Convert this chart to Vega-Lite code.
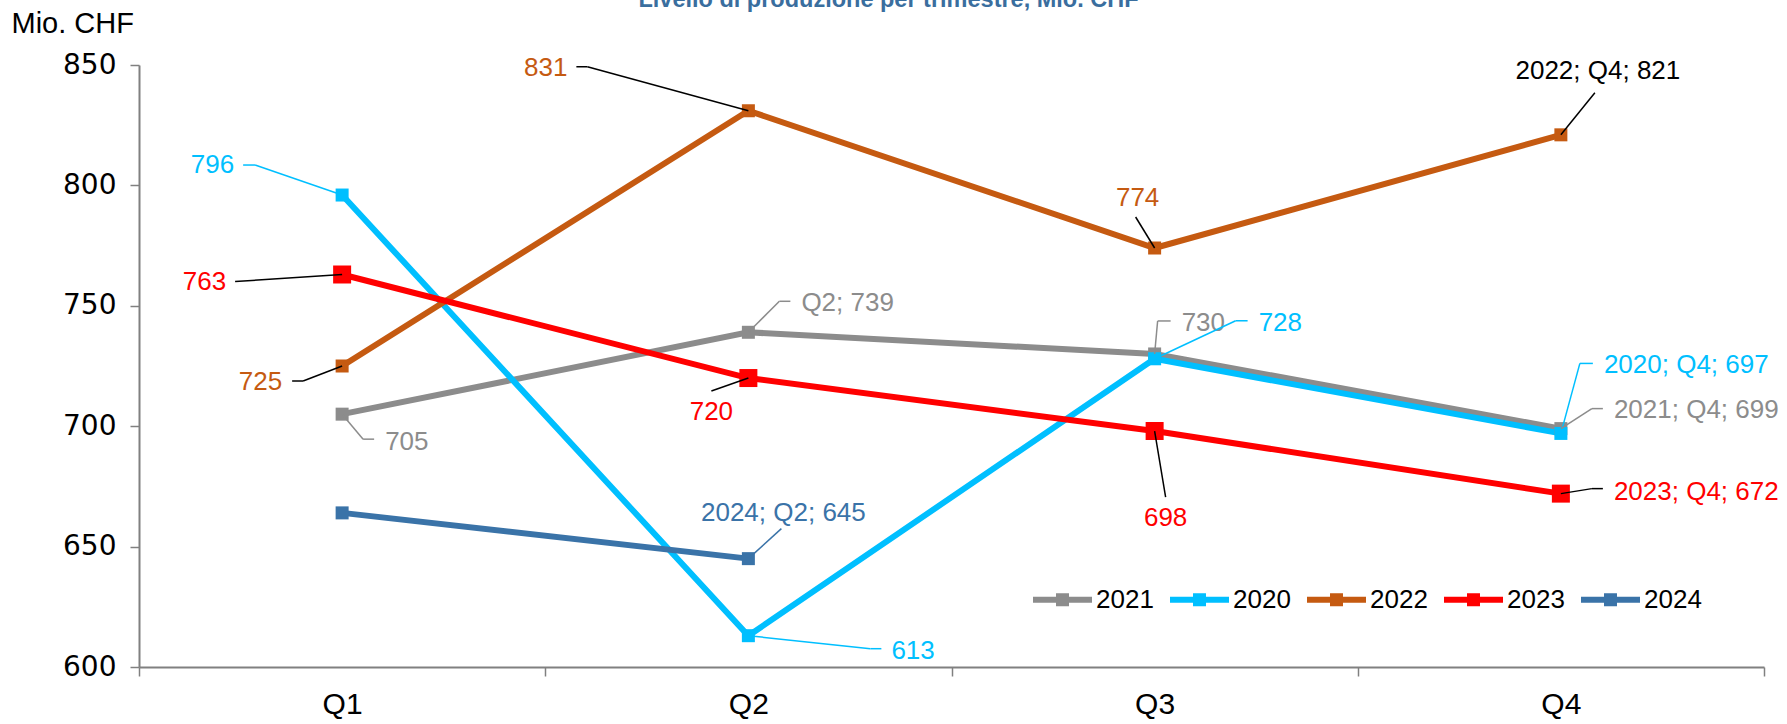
{
  "$schema": "https://vega.github.io/schema/vega-lite/v6.json",
  "width": 1625,
  "height": 602,
  "autosize": "none",
  "padding": {"left": 139, "top": 65, "right": 23, "bottom": 57},
  "background": "white",
  "title": {"text": "Livello di produzione per trimestre, Mio. CHF", "color": "#3A6E9E", "font": "Liberation Sans", "fontSize": 23.5, "fontWeight": "bold", "anchor": "middle", "frame": "group", "baseline": "alphabetic", "offset": 0, "dy": 21, "dx": -63},
  "config": {"view": {"stroke": null}},
  "data": {"values": [
    {"year": "2021", "quarter": "Q1", "value": 705, "label": "705"},
    {"year": "2021", "quarter": "Q2", "value": 739, "label": "Q2; 739"},
    {"year": "2021", "quarter": "Q3", "value": 730, "label": "730"},
    {"year": "2021", "quarter": "Q4", "value": 699, "label": "2021; Q4; 699"},
    {"year": "2020", "quarter": "Q1", "value": 796, "label": "796"},
    {"year": "2020", "quarter": "Q2", "value": 613, "label": "613"},
    {"year": "2020", "quarter": "Q3", "value": 728, "label": "728"},
    {"year": "2020", "quarter": "Q4", "value": 697, "label": "2020; Q4; 697"},
    {"year": "2022", "quarter": "Q1", "value": 725, "label": "725"},
    {"year": "2022", "quarter": "Q2", "value": 831, "label": "831"},
    {"year": "2022", "quarter": "Q3", "value": 774, "label": "774"},
    {"year": "2022", "quarter": "Q4", "value": 821, "label": "2022; Q4; 821"},
    {"year": "2023", "quarter": "Q1", "value": 763, "label": "763"},
    {"year": "2023", "quarter": "Q2", "value": 720, "label": "720"},
    {"year": "2023", "quarter": "Q3", "value": 698, "label": "698"},
    {"year": "2023", "quarter": "Q4", "value": 672, "label": "2023; Q4; 672"},
    {"year": "2024", "quarter": "Q1", "value": 664, "label": ""},
    {"year": "2024", "quarter": "Q2", "value": 645, "label": "2024; Q2; 645"}
  ]},
  "encoding": {
    "x": {"field": "quarter", "type": "ordinal", "bandPosition": 0.5,
      "scale": {"type": "band", "domain": ["Q1", "Q2", "Q3", "Q4"], "paddingInner": 0, "paddingOuter": 0},
      "axis": {"title": null, "tickBand": "extent", "domainColor": "#808080", "domainWidth": 2, "tickColor": "#808080", "tickWidth": 1.5, "tickSize": 9, "labelFont": "Liberation Sans", "labelFontSize": 30, "labelColor": "black", "labelPadding": 13, "labelAngle": 0, "grid": false}},
    "y": {"field": "value", "type": "quantitative",
      "scale": {"domain": [600, 850], "nice": false, "zero": false},
      "axis": {"values": [600, 650, 700, 750, 800, 850], "grid": false, "domainColor": "#808080", "domainWidth": 2, "tickColor": "#808080", "tickWidth": 1.5, "tickSize": 9, "labelFont": "DejaVu Sans", "labelFontSize": 28, "labelColor": "black", "labelPadding": 14,
        "title": "Mio. CHF", "titleAngle": 0, "titleAlign": "left", "titleBaseline": "middle", "titleX": -128, "titleY": -42, "titleFont": "Liberation Sans", "titleFontSize": 29, "titleFontWeight": "normal", "titleColor": "black"}}
  },
  "layer": [
    {"mark": {"type": "line", "strokeWidth": 6},
     "encoding": {"color": {"field": "year", "type": "nominal", "scale": {"domain": ["2021", "2020", "2022", "2023", "2024"], "range": ["#8C8C8C", "#00BFFF", "#C55A11", "#FF0000", "#3A73A8"]},
         "legend": {"orient": "none", "legendX": 894, "legendY": 505, "direction": "horizontal", "columns": 5, "title": null, "labelFont": "Liberation Sans", "labelFontSize": 26, "labelColor": "black", "symbolType": "M-1,-0.1H1V0.1H-1Z M-0.22,-0.22H0.22V0.22H-0.22Z", "symbolSize": 3481, "symbolStrokeWidth": 0, "symbolOpacity": 1, "labelOffset": 4, "columnPadding": 16}}}},
    {"mark": {"type": "point", "shape": "square", "filled": true, "opacity": 1},
     "encoding": {
       "color": {"field": "year", "type": "nominal", "scale": {"domain": ["2021", "2020", "2022", "2023", "2024"], "range": ["#8C8C8C", "#00BFFF", "#C55A11", "#FF0000", "#3A73A8"]},
         "legend": {"orient": "none", "legendX": 894, "legendY": 505, "direction": "horizontal", "columns": 5, "title": null, "labelFont": "Liberation Sans", "labelFontSize": 26, "labelColor": "black", "symbolType": "M-1,-0.1H1V0.1H-1Z M-0.22,-0.22H0.22V0.22H-0.22Z", "symbolSize": 3481, "symbolStrokeWidth": 0, "symbolOpacity": 1, "labelOffset": 4, "columnPadding": 16}},
       "size": {"condition": {"test": "datum.year == '2023'", "value": 324}, "value": 169}}},

    {"transform": [{"filter": "datum.year == '2020' && datum.quarter == 'Q1'"}],
     "layer": [
      {"mark": {"type": "rule", "color": "#00BFFF", "strokeWidth": 1.5, "x2Offset": -87, "y2Offset": -30}, "encoding": {"x2": {"field": "quarter"}, "y2": {"field": "value"}}},
      {"mark": {"type": "rule", "color": "#00BFFF", "strokeWidth": 1.5, "xOffset": -87, "yOffset": -30, "x2Offset": -99, "y2Offset": -30}, "encoding": {"x2": {"field": "quarter"}, "y2": {"field": "value"}}},
      {"mark": {"type": "text", "color": "#00BFFF", "align": "right", "baseline": "middle", "dx": -108, "dy": -30, "font": "Liberation Sans", "fontSize": 26}, "encoding": {"text": {"field": "label"}}}
     ]},
    {"transform": [{"filter": "datum.year == '2023' && datum.quarter == 'Q1'"}],
     "layer": [
      {"mark": {"type": "rule", "color": "black", "strokeWidth": 1.5, "x2Offset": -107, "y2Offset": 7}, "encoding": {"x2": {"field": "quarter"}, "y2": {"field": "value"}}},
      {"mark": {"type": "text", "color": "#FF0000", "align": "right", "baseline": "middle", "dx": -116, "dy": 8, "font": "Liberation Sans", "fontSize": 26}, "encoding": {"text": {"field": "label"}}}
     ]},
    {"transform": [{"filter": "datum.year == '2022' && datum.quarter == 'Q1'"}],
     "layer": [
      {"mark": {"type": "rule", "color": "black", "strokeWidth": 1.5, "x2Offset": -39, "y2Offset": 15}, "encoding": {"x2": {"field": "quarter"}, "y2": {"field": "value"}}},
      {"mark": {"type": "rule", "color": "black", "strokeWidth": 1.5, "xOffset": -39, "yOffset": 15, "x2Offset": -50, "y2Offset": 15}, "encoding": {"x2": {"field": "quarter"}, "y2": {"field": "value"}}},
      {"mark": {"type": "text", "color": "#C55A11", "align": "right", "baseline": "middle", "dx": -60, "dy": 16, "font": "Liberation Sans", "fontSize": 26}, "encoding": {"text": {"field": "label"}}}
     ]},
    {"transform": [{"filter": "datum.year == '2021' && datum.quarter == 'Q1'"}],
     "layer": [
      {"mark": {"type": "rule", "color": "#8C8C8C", "strokeWidth": 1.5, "x2Offset": 21, "y2Offset": 25}, "encoding": {"x2": {"field": "quarter"}, "y2": {"field": "value"}}},
      {"mark": {"type": "rule", "color": "#8C8C8C", "strokeWidth": 1.5, "xOffset": 21, "yOffset": 25, "x2Offset": 32, "y2Offset": 25}, "encoding": {"x2": {"field": "quarter"}, "y2": {"field": "value"}}},
      {"mark": {"type": "text", "color": "#8C8C8C", "align": "left", "baseline": "middle", "dx": 43, "dy": 28, "font": "Liberation Sans", "fontSize": 26}, "encoding": {"text": {"field": "label"}}}
     ]},
    {"transform": [{"filter": "datum.year == '2022' && datum.quarter == 'Q2'"}],
     "layer": [
      {"mark": {"type": "rule", "color": "black", "strokeWidth": 1.5, "x2Offset": -161, "y2Offset": -44}, "encoding": {"x2": {"field": "quarter"}, "y2": {"field": "value"}}},
      {"mark": {"type": "rule", "color": "black", "strokeWidth": 1.5, "xOffset": -161, "yOffset": -44, "x2Offset": -172, "y2Offset": -44}, "encoding": {"x2": {"field": "quarter"}, "y2": {"field": "value"}}},
      {"mark": {"type": "text", "color": "#C55A11", "align": "right", "baseline": "middle", "dx": -181, "dy": -43, "font": "Liberation Sans", "fontSize": 26}, "encoding": {"text": {"field": "label"}}}
     ]},
    {"transform": [{"filter": "datum.year == '2021' && datum.quarter == 'Q2'"}],
     "layer": [
      {"mark": {"type": "rule", "color": "#8C8C8C", "strokeWidth": 1.5, "x2Offset": 31, "y2Offset": -31}, "encoding": {"x2": {"field": "quarter"}, "y2": {"field": "value"}}},
      {"mark": {"type": "rule", "color": "#8C8C8C", "strokeWidth": 1.5, "xOffset": 31, "yOffset": -31, "x2Offset": 42, "y2Offset": -31}, "encoding": {"x2": {"field": "quarter"}, "y2": {"field": "value"}}},
      {"mark": {"type": "text", "color": "#8C8C8C", "align": "left", "baseline": "middle", "dx": 53, "dy": -29, "font": "Liberation Sans", "fontSize": 26}, "encoding": {"text": {"field": "label"}}}
     ]},
    {"transform": [{"filter": "datum.year == '2023' && datum.quarter == 'Q2'"}],
     "layer": [
      {"mark": {"type": "rule", "color": "black", "strokeWidth": 1.5, "x2Offset": -37, "y2Offset": 13}, "encoding": {"x2": {"field": "quarter"}, "y2": {"field": "value"}}},
      {"mark": {"type": "text", "color": "#FF0000", "align": "center", "baseline": "middle", "dx": -37, "dy": 34, "font": "Liberation Sans", "fontSize": 26}, "encoding": {"text": {"field": "label"}}}
     ]},
    {"transform": [{"filter": "datum.year == '2024' && datum.quarter == 'Q2'"}],
     "layer": [
      {"mark": {"type": "rule", "color": "#3A73A8", "strokeWidth": 1.5, "x2Offset": 33, "y2Offset": -30}, "encoding": {"x2": {"field": "quarter"}, "y2": {"field": "value"}}},
      {"mark": {"type": "text", "color": "#3A73A8", "align": "center", "baseline": "middle", "dx": 35, "dy": -46, "font": "Liberation Sans", "fontSize": 26}, "encoding": {"text": {"field": "label"}}}
     ]},
    {"transform": [{"filter": "datum.year == '2020' && datum.quarter == 'Q2'"}],
     "layer": [
      {"mark": {"type": "rule", "color": "#00BFFF", "strokeWidth": 1.5, "x2Offset": 122, "y2Offset": 13}, "encoding": {"x2": {"field": "quarter"}, "y2": {"field": "value"}}},
      {"mark": {"type": "rule", "color": "#00BFFF", "strokeWidth": 1.5, "xOffset": 122, "yOffset": 13, "x2Offset": 133, "y2Offset": 13}, "encoding": {"x2": {"field": "quarter"}, "y2": {"field": "value"}}},
      {"mark": {"type": "text", "color": "#00BFFF", "align": "left", "baseline": "middle", "dx": 143, "dy": 15, "font": "Liberation Sans", "fontSize": 26}, "encoding": {"text": {"field": "label"}}}
     ]},
    {"transform": [{"filter": "datum.year == '2022' && datum.quarter == 'Q3'"}],
     "layer": [
      {"mark": {"type": "rule", "color": "black", "strokeWidth": 1.5, "x2Offset": -19, "y2Offset": -31}, "encoding": {"x2": {"field": "quarter"}, "y2": {"field": "value"}}},
      {"mark": {"type": "text", "color": "#C55A11", "align": "center", "baseline": "middle", "dx": -17, "dy": -50, "font": "Liberation Sans", "fontSize": 26}, "encoding": {"text": {"field": "label"}}}
     ]},
    {"transform": [{"filter": "datum.year == '2021' && datum.quarter == 'Q3'"}],
     "layer": [
      {"mark": {"type": "rule", "color": "#8C8C8C", "strokeWidth": 1.5, "x2Offset": 3, "y2Offset": -33}, "encoding": {"x2": {"field": "quarter"}, "y2": {"field": "value"}}},
      {"mark": {"type": "rule", "color": "#8C8C8C", "strokeWidth": 1.5, "xOffset": 3, "yOffset": -33, "x2Offset": 16, "y2Offset": -33}, "encoding": {"x2": {"field": "quarter"}, "y2": {"field": "value"}}},
      {"mark": {"type": "text", "color": "#8C8C8C", "align": "left", "baseline": "middle", "dx": 27, "dy": -31, "font": "Liberation Sans", "fontSize": 26}, "encoding": {"text": {"field": "label"}}}
     ]},
    {"transform": [{"filter": "datum.year == '2020' && datum.quarter == 'Q3'"}],
     "layer": [
      {"mark": {"type": "rule", "color": "#00BFFF", "strokeWidth": 1.5, "x2Offset": 81, "y2Offset": -38}, "encoding": {"x2": {"field": "quarter"}, "y2": {"field": "value"}}},
      {"mark": {"type": "rule", "color": "#00BFFF", "strokeWidth": 1.5, "xOffset": 81, "yOffset": -38, "x2Offset": 93, "y2Offset": -38}, "encoding": {"x2": {"field": "quarter"}, "y2": {"field": "value"}}},
      {"mark": {"type": "text", "color": "#00BFFF", "align": "left", "baseline": "middle", "dx": 104, "dy": -36, "font": "Liberation Sans", "fontSize": 26}, "encoding": {"text": {"field": "label"}}}
     ]},
    {"transform": [{"filter": "datum.year == '2023' && datum.quarter == 'Q3'"}],
     "layer": [
      {"mark": {"type": "rule", "color": "black", "strokeWidth": 1.5, "x2Offset": 11, "y2Offset": 66}, "encoding": {"x2": {"field": "quarter"}, "y2": {"field": "value"}}},
      {"mark": {"type": "text", "color": "#FF0000", "align": "center", "baseline": "middle", "dx": 11, "dy": 87, "font": "Liberation Sans", "fontSize": 26}, "encoding": {"text": {"field": "label"}}}
     ]},
    {"transform": [{"filter": "datum.year == '2022' && datum.quarter == 'Q4'"}],
     "layer": [
      {"mark": {"type": "rule", "color": "black", "strokeWidth": 1.5, "x2Offset": 34, "y2Offset": -42}, "encoding": {"x2": {"field": "quarter"}, "y2": {"field": "value"}}},
      {"mark": {"type": "text", "color": "black", "align": "center", "baseline": "middle", "dx": 37, "dy": -64, "font": "Liberation Sans", "fontSize": 26}, "encoding": {"text": {"field": "label"}}}
     ]},
    {"transform": [{"filter": "datum.year == '2020' && datum.quarter == 'Q4'"}],
     "layer": [
      {"mark": {"type": "rule", "color": "#00BFFF", "strokeWidth": 1.5, "x2Offset": 19, "y2Offset": -70}, "encoding": {"x2": {"field": "quarter"}, "y2": {"field": "value"}}},
      {"mark": {"type": "rule", "color": "#00BFFF", "strokeWidth": 1.5, "xOffset": 19, "yOffset": -70, "x2Offset": 32, "y2Offset": -70}, "encoding": {"x2": {"field": "quarter"}, "y2": {"field": "value"}}},
      {"mark": {"type": "text", "color": "#00BFFF", "align": "left", "baseline": "middle", "dx": 43, "dy": -68, "font": "Liberation Sans", "fontSize": 26}, "encoding": {"text": {"field": "label"}}}
     ]},
    {"transform": [{"filter": "datum.year == '2021' && datum.quarter == 'Q4'"}],
     "layer": [
      {"mark": {"type": "rule", "color": "#8C8C8C", "strokeWidth": 1.5, "x2Offset": 31, "y2Offset": -20}, "encoding": {"x2": {"field": "quarter"}, "y2": {"field": "value"}}},
      {"mark": {"type": "rule", "color": "#8C8C8C", "strokeWidth": 1.5, "xOffset": 31, "yOffset": -20, "x2Offset": 42, "y2Offset": -20}, "encoding": {"x2": {"field": "quarter"}, "y2": {"field": "value"}}},
      {"mark": {"type": "text", "color": "#8C8C8C", "align": "left", "baseline": "middle", "dx": 53, "dy": -19, "font": "Liberation Sans", "fontSize": 26}, "encoding": {"text": {"field": "label"}}}
     ]},
    {"transform": [{"filter": "datum.year == '2023' && datum.quarter == 'Q4'"}],
     "layer": [
      {"mark": {"type": "rule", "color": "black", "strokeWidth": 1.5, "x2Offset": 31, "y2Offset": -5}, "encoding": {"x2": {"field": "quarter"}, "y2": {"field": "value"}}},
      {"mark": {"type": "rule", "color": "black", "strokeWidth": 1.5, "xOffset": 31, "yOffset": -5, "x2Offset": 42, "y2Offset": -5}, "encoding": {"x2": {"field": "quarter"}, "y2": {"field": "value"}}},
      {"mark": {"type": "text", "color": "#FF0000", "align": "left", "baseline": "middle", "dx": 53, "dy": -2, "font": "Liberation Sans", "fontSize": 26}, "encoding": {"text": {"field": "label"}}}
     ]}
  ]
}
